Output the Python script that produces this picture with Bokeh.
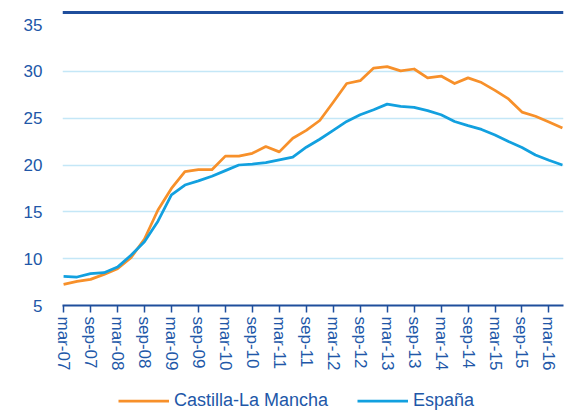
from bokeh.plotting import figure
from bokeh.models import Range1d, FixedTicker, Legend, LegendItem, Span
from bokeh.layouts import column
from bokeh.embed import file_html
from bokeh.resources import INLINE

periods = ["mar-07", "jun-07", "sep-07", "dic-07", "mar-08", "jun-08", "sep-08", "dic-08",
           "mar-09", "jun-09", "sep-09", "dic-09", "mar-10", "jun-10", "sep-10", "dic-10",
           "mar-11", "jun-11", "sep-11", "dic-11", "mar-12", "jun-12", "sep-12", "dic-12",
           "mar-13", "jun-13", "sep-13", "dic-13", "mar-14", "jun-14", "sep-14", "dic-14",
           "mar-15", "jun-15", "sep-15", "dic-15", "mar-16", "jun-16"]

castilla = [7.25, 7.57, 7.79, 8.32, 8.93, 10.1, 12.1, 15.2, 17.5, 19.3, 19.5, 19.5,
            20.95, 20.95, 21.25, 21.97, 21.4, 22.85, 23.7, 24.75, 26.7, 28.7, 29.0, 30.35,
            30.5, 30.05, 30.25, 29.3, 29.5, 28.7, 29.3, 28.8, 27.97, 27.05, 25.65, 25.2,
            24.6, 23.95]

espana = [8.1, 8.04, 8.4, 8.5, 9.1, 10.36, 11.8, 14.0, 16.8, 17.86, 18.3, 18.8,
          19.4, 20.0, 20.1, 20.25, 20.55, 20.85, 21.9, 22.75, 23.7, 24.65, 25.36, 25.9,
          26.5, 26.25, 26.15, 25.8, 25.36, 24.65, 24.2, 23.8, 23.2, 22.5, 21.86, 21.07,
          20.5, 20.0]

series_names = ["Castilla-La Mancha", "España"]
y_ticks = [5, 10, 15, 20, 25, 30, 35]

TEXT = "#2157A8"
AXIS = "#1F4E9C"
ORANGE = "#F7902A"
BLUE = "#12A0DF"
GRID = "#C4E7F7"
FONT = "Liberation Sans"
W = 566


def bare(fig):
    fig.min_border_left = 0
    fig.min_border_right = 0
    fig.min_border_top = 0
    fig.min_border_bottom = 0
    fig.grid.visible = False
    fig.outline_line_color = None
    return fig


x = list(range(len(periods)))
tick_idx = [i for i in x if i % 2 == 0]

# --- top rule (header underline) ---
p_rule = bare(figure(width=W, height=14, output_backend="svg", toolbar_location=None,
                     x_range=Range1d(0, 1), y_range=Range1d(0, 14),
                     x_axis_location=None, y_axis_location=None))
p_rule.add_layout(Span(location=2, dimension="width", line_color=AXIS, line_width=3))

# --- main chart ---
p = figure(width=W, height=376, output_backend="svg", toolbar_location=None,
           x_range=Range1d(-0.08, 37.08), y_range=Range1d(5, 35),
           min_border_left=62, min_border_right=3, min_border_top=10, min_border_bottom=85)
p.outline_line_color = None

r1 = p.line(x, castilla, line_color=ORANGE, line_width=2.75, line_join="round")
r2 = p.line(x, espana, line_color=BLUE, line_width=2.75, line_join="round")

p.xgrid.visible = False
p.ygrid.grid_line_color = GRID
p.ygrid.grid_line_width = 1.3
p.yaxis.ticker = FixedTicker(ticks=y_ticks)
p.yaxis.axis_line_color = None
p.yaxis.major_tick_line_color = None
p.yaxis.minor_tick_line_color = None
p.yaxis.major_tick_out = 0
p.yaxis.major_label_standoff = 20
p.yaxis.major_label_text_font = FONT
p.yaxis.major_label_text_font_size = "17px"
p.yaxis.major_label_text_color = TEXT

p.xaxis.ticker = FixedTicker(ticks=tick_idx)
p.xaxis.major_label_overrides = {i: periods[i] for i in tick_idx}
p.xaxis.major_label_orientation = "vertical"
p.xaxis.axis_line_color = AXIS
p.xaxis.axis_line_width = 2
p.xaxis.major_tick_line_color = AXIS
p.xaxis.major_tick_line_width = 1.5
p.xaxis.major_tick_out = 7
p.xaxis.major_tick_in = 0
p.xaxis.minor_tick_line_color = None
p.xaxis.major_label_standoff = 4
p.xaxis.major_label_text_font = FONT
p.xaxis.major_label_text_font_size = "17px"
p.xaxis.major_label_text_color = TEXT

# --- legend strip ---
p_leg = bare(figure(width=W, height=25, output_backend="svg", toolbar_location=None,
                    x_range=Range1d(0, 1), y_range=Range1d(0, 1),
                    x_axis_location=None, y_axis_location=None))
# legend swatches: renderers kept out of view, only their styles are shown in the legend
l1 = p_leg.line([-2, -1], [-2, -1], line_color=ORANGE, line_width=2.75)
l2 = p_leg.line([-2, -1], [-2, -1], line_color=BLUE, line_width=2.75)

legend = Legend(items=[LegendItem(label=series_names[0], renderers=[l1]),
                       LegendItem(label=series_names[1], renderers=[l2])],
                orientation="horizontal", location=(56, 4))
legend.border_line_color = None
legend.background_fill_alpha = 0
legend.padding = 0
legend.margin = 0
legend.spacing = 29
legend.glyph_width = 51
legend.glyph_height = 17
legend.label_height = 17
legend.label_standoff = 5
legend.label_text_font = FONT
legend.label_text_font_size = "18px"
legend.label_text_color = TEXT
p_leg.add_layout(legend)

layout = column(p_rule, p, p_leg)
open("out.html", "w").write(file_html(layout, INLINE))
